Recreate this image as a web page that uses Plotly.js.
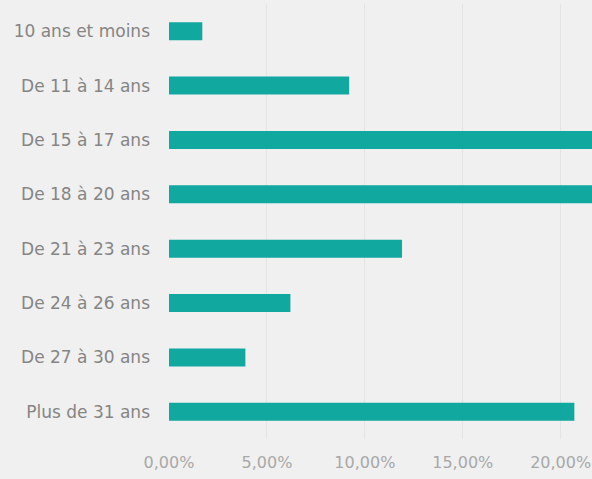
<!DOCTYPE html>
<html>
<head>
<meta charset="utf-8">
<script src="https://cdn.plot.ly/plotly-3.0.1.min.js"></script>
<style>html,body{margin:0;padding:0;background:#f0f0f0;}#chart{width:592px;height:479px;}</style>
</head>
<body>
<div id="chart"></div>
<script>
const categories = ["10 ans et moins","De 11 à 14 ans","De 15 à 17 ans","De 18 à 20 ans","De 21 à 23 ans","De 24 à 26 ans","De 27 à 30 ans","Plus de 31 ans"];
const shares = [1.7, 9.2, 23.5, 22.9, 11.9, 6.2, 3.9, 20.7];
const xTicks = [0, 5, 10, 15, 20];
const xTickLabels = ["0,00%", "5,00%", "10,00%", "15,00%", "20,00%"];

const trace = {
  type: 'bar',
  orientation: 'h',
  x: shares,
  y: categories,
  marker: {color: '#10a89f', line: {width: 0}},
  width: 0.33,
  hoverinfo: 'none'
};

const layout = {
  width: 592, height: 479,
  paper_bgcolor: '#f0f0f0',
  plot_bgcolor: '#f0f0f0',
  margin: {l: 169, r: 0, t: 4, b: 40},
  font: {family: '"DejaVu Sans", sans-serif'},
  showlegend: false,
  xaxis: {
    range: [0, 21.6],
    tickvals: xTicks,
    ticktext: xTickLabels,
    showgrid: true,
    gridcolor: '#e4e4e4',
    gridwidth: 1,
    zeroline: false,
    showline: false,
    ticks: '',
    ticklabelstandoff: 12,
    tickfont: {size: 16, color: '#a8a8a8'}
  },
  yaxis: {
    type: 'category',
    range: [7.5, -0.5],
    showgrid: false,
    zeroline: false,
    showline: false,
    ticks: '',
    ticklabelstandoff: 18,
    tickfont: {size: 17, color: '#858585'}
  }
};

Plotly.newPlot('chart', [trace], layout, {displayModeBar: false, staticPlot: true});
</script>
</body>
</html>
